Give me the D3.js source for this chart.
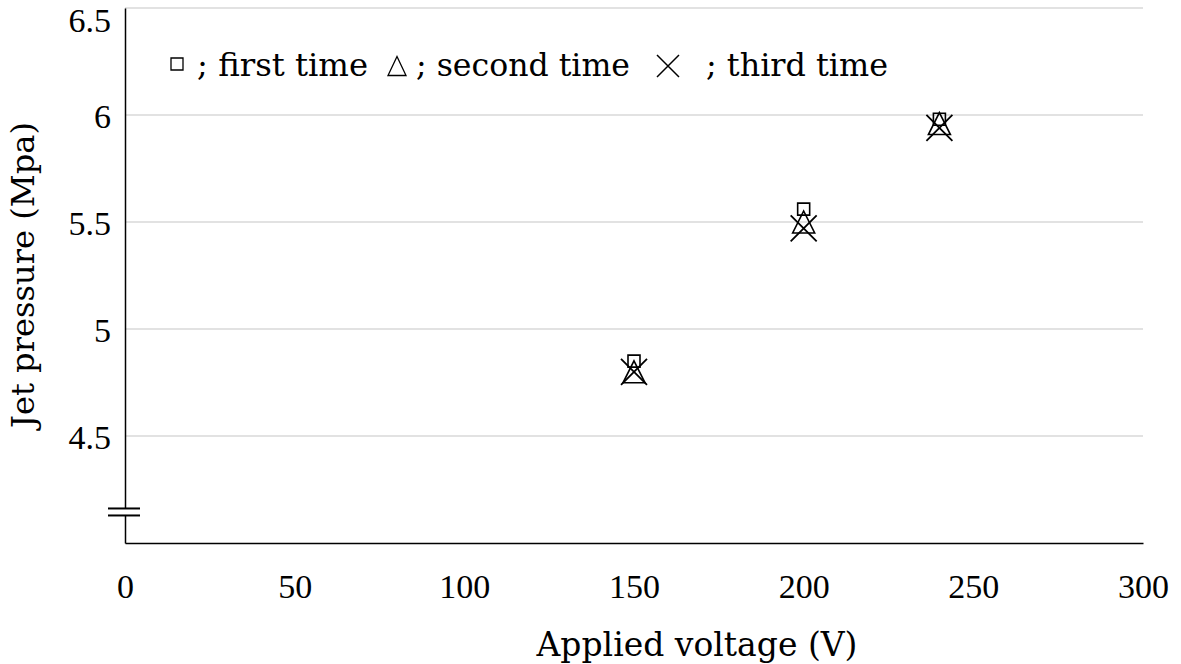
<!DOCTYPE html>
<html><head><meta charset="utf-8">
<script src="https://cdn.jsdelivr.net/npm/d3@7/dist/d3.min.js"></script>
<style>body{margin:0;background:#fff}svg{display:block}text{font-family:"DejaVu Serif",serif;fill:#000}</style>
</head><body><svg id="c" width="1181" height="664"></svg>
<script>
const voltages = [150, 200, 240];
const firstTime = [4.85, 5.56, 5.98];
const secondTime = [4.80, 5.50, 5.96];
const thirdTime = [4.80, 5.47, 5.94];
const xTicks = [0, 50, 100, 150, 200, 250, 300];
const yTicks = [4.5, 5, 5.5, 6, 6.5];
const legendLabels = ["; first time", "; second time", "; third time"];

const svg = d3.select("#c");
const L = 125, R = 1143, T = 8, B = 543;
const x = d3.scaleLinear().domain([0, 300]).range([L, R]);
const y = d3.scaleLinear().domain([4, 6.5]).range([B, T]);

// fit a text element to a target width by adjusting its font size
function fit(sel, w) {
  const n = sel.node();
  const fs = parseFloat(sel.style("font-size"));
  const cur = n.getComputedTextLength();
  sel.style("font-size", (fs * w / cur).toFixed(2) + "px");
  return sel;
}

// gridlines
svg.append("g").selectAll("line").data(yTicks).join("line")
  .attr("x1", L).attr("x2", R).attr("y1", d => y(d)).attr("y2", d => y(d))
  .attr("stroke", "#d9d9d9").attr("stroke-width", 1.5);

// axes
const xAxis = svg.append("g").attr("transform", `translate(0,${B})`)
  .call(d3.axisBottom(x).tickValues(xTicks).tickSize(0).tickPadding(31).tickFormat(d3.format("d")));
xAxis.select(".domain").attr("stroke", "#000").attr("stroke-width", 1.5);
xAxis.selectAll("text").style("font-family", '"Liberation Serif",serif').style("font-size", "34px");

const yAxis = svg.append("g").attr("transform", `translate(${L},0)`)
  .call(d3.axisLeft(y).tickValues(yTicks).tickSize(0).tickPadding(14).tickFormat(d => d3.format("")(d)));
yAxis.select(".domain").attr("stroke", "#000").attr("stroke-width", 1.5);
yAxis.selectAll("text").style("font-family", '"Liberation Serif",serif').style("font-size", "34px")
  .attr("dy", d => d === 6.5 ? "0.68em" : "0.36em");

// axis break
const yb = y(4.145);
svg.append("rect").attr("x", L - 4).attr("y", yb - 3).attr("width", 8).attr("height", 6).attr("fill", "#fff");
[yb - 3.5, yb + 3.5].forEach(v => svg.append("line").attr("x1", L - 17).attr("x2", L + 15)
  .attr("y1", v).attr("y2", v).attr("stroke", "#000").attr("stroke-width", 2));

// markers
const sq = s => `M${-s/2},${-s/2}h${s}v${s}h${-s}Z`;
const tri = (w, h) => `M0,${-h/2}L${w/2},${h/2}L${-w/2},${h/2}Z`;
const cross = s => `M${-s/2},${-s/2}L${s/2},${s/2}M${s/2},${-s/2}L${-s/2},${s/2}`;

function plot(vals, path, sw) {
  svg.append("g").selectAll("path").data(vals).join("path")
    .attr("transform", (d, i) => `translate(${x(voltages[i])},${y(d)})`)
    .attr("d", path).attr("fill", "none").attr("stroke", "#000").attr("stroke-width", sw);
}
plot(firstTime, sq(12), 1.6);
plot(secondTime, tri(22, 22), 1.6);
plot(thirdTime, cross(26), 1.8);

// legend
const lg = svg.append("g");
lg.append("path").attr("transform", "translate(177,64)").attr("d", sq(12)).attr("fill", "none").attr("stroke", "#000").attr("stroke-width", 1.3);
lg.append("path").attr("transform", "translate(397,66)").attr("d", tri(18, 19)).attr("fill", "none").attr("stroke", "#000").attr("stroke-width", 1.3);
lg.append("path").attr("transform", "translate(668,66)").attr("d", cross(22)).attr("fill", "none").attr("stroke", "#000").attr("stroke-width", 1.5);
const lx = [197, 416, 706], lw = [171, 214, 182];
legendLabels.forEach((t, i) => fit(lg.append("text").attr("x", lx[i]).attr("y", 76).style("font-size", "30px").text(t), lw[i]));

// axis titles
fit(svg.append("text").attr("x", 697).attr("y", 656).attr("text-anchor", "middle").style("font-size", "30px").text("Applied voltage (V)"), 321);
fit(svg.append("text").attr("transform", "translate(34,275) rotate(-90)").attr("text-anchor", "middle").style("font-size", "30px").text("Jet pressure (Mpa)"), 306);
</script></body></html>
